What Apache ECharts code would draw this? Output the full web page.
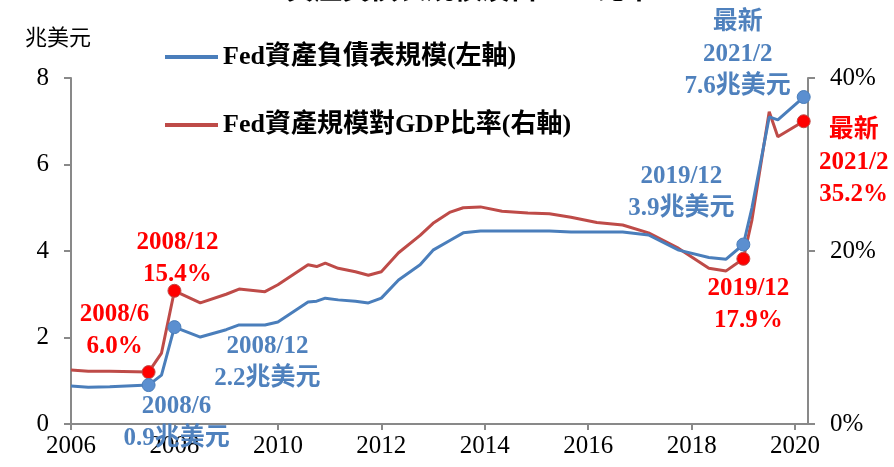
<!DOCTYPE html>
<html>
<head>
<meta charset="utf-8">
<script src="https://cdn.jsdelivr.net/npm/echarts@6/dist/echarts.min.js"></script>
<style>
  html, body { margin: 0; padding: 0; background: #fff; }
  #chart { width: 894px; height: 467px; }
</style>
</head>
<body>
<div id="chart"></div>
<script>
// 資料（月底）
var dates = ['2006/12','2007/4','2007/9','2008/6','2008/9','2008/12','2009/6','2009/12','2010/3','2010/9',
             '2010/12','2011/7','2011/9','2011/11','2012/2','2012/6','2012/9','2012/12','2013/4','2013/9',
             '2013/12','2014/4','2014/7','2014/11','2015/4','2015/10','2016/3','2016/8','2017/2','2017/8',
             '2018/2','2018/9','2019/4','2019/8','2019/12','2020/2','2020/6','2020/8','2021/2'];
// Fed資產負債表規模(兆美元)
var fedAssets = [0.88,0.85,0.86,0.9,1.13,2.24,2.01,2.18,2.29,2.29,
                 2.36,2.82,2.84,2.91,2.87,2.84,2.80,2.91,3.33,3.68,
                 4.02,4.25,4.42,4.46,4.46,4.46,4.46,4.44,4.44,4.44,
                 4.37,4.02,3.85,3.81,4.15,5.0,7.1,7.03,7.56];
// Fed資產規模對GDP比率(%)
var fedToGdp = [6.24,6.1,6.1,6.0,8.2,15.4,14.0,15.0,15.6,15.3,
                16.1,18.4,18.2,18.6,18.0,17.6,17.2,17.6,19.8,21.8,
                23.2,24.5,25.0,25.1,24.6,24.4,24.3,23.9,23.3,23.0,
                22.1,20.3,18.0,17.7,19.1,23.6,36.1,33.2,35.0];

var xTicks = ['2006','2008','2010','2012','2014','2016','2018','2020'];
var markDates = ['2008/6','2008/12','2019/12','2021/2'];
var blueNotes = ['2008/6\n0.9兆美元','2008/12\n2.2兆美元','2019/12\n3.9兆美元','最新\n2021/2\n7.6兆美元'];
var redNotes = ['2008/6\n6.0%','2008/12\n15.4%','2019/12\n17.9%','最新\n2021/2\n35.2%'];

var seriesNames = ['Fed資產負債表規模(左軸)', 'Fed資產規模對GDP比率(右軸)'];
var titleText = 'Fed資產負債表規模及占GDP比率';

var FONT = "'Liberation Serif', 'Noto Sans CJK TC', serif";
var BLUE = '#4A7EBB', RED = '#BE4B48';

// 橫軸：以2006/12起算的月數
function monthIdx(s) {
    var p = s.split('/');
    return (parseInt(p[0]) - 2006) * 12 + parseInt(p[1]) - 12;
}
var tickVals = xTicks.map(function (t) { return (parseInt(t) - 2006) * 12; });

// 標註位置
var bluePos = [
    { position: 'bottom', offset: [28, -7] },
    { position: 'right', offset: [81, 35] },
    { position: 'top', offset: [-62, -8] },
    { position: 'top', offset: [-66, 18] }
];
var redPos = [
    { position: 'top', offset: [-34, 2] },
    { position: 'top', offset: [3, 12] },
    { position: 'bottom', offset: [5, 2] },
    { position: 'right', offset: [38, 41] }
];

function buildData(vals, notes, pos, color, markColor) {
    var out = [];
    for (var i = 0; i < dates.length; i++) {
        var k = markDates.indexOf(dates[i]);
        var item = { value: [monthIdx(dates[i]), vals[i]] };
        if (k >= 0) {
            item.symbolSize = 13;
            item.itemStyle = { color: markColor, borderColor: color, borderWidth: 1 };
            item.label = {
                show: true,
                position: pos[k].position,
                offset: pos[k].offset,
                formatter: notes[k],
                color: markColor == '#FF0000' ? '#FF0000' : '#4F81BD',
                fontFamily: FONT,
                fontWeight: 'bold',
                fontSize: 25,
                lineHeight: 32,
                align: 'center'
            };
        }
        out.push(item);
    }
    return out;
}

var myChart = echarts.init(document.getElementById('chart'));
var axisLine = { show: true, lineStyle: { color: '#898989', width: 2 } };
var option = {
    animation: false,
    backgroundColor: '#fff',
    title: {
        text: titleText,
        left: 'center',
        top: -27,
        textStyle: { fontFamily: FONT, fontSize: 28, fontWeight: 'bold', color: '#000' }
    },
    legend: {
        orient: 'vertical',
        left: 165,
        top: 43,
        padding: 0,
        itemGap: 40,
        itemWidth: 53,
        itemHeight: 4,
        icon: 'rect',
        textStyle: { fontFamily: FONT, fontSize: 26, fontWeight: 'bold', color: '#000', lineHeight: 28 },
        data: seriesNames
    },
    grid: { left: 71, right: 86, top: 78, bottom: 43, containLabel: false },
    xAxis: {
        type: 'value',
        min: 0,
        max: 171,
        splitLine: { show: false },
        axisLine: axisLine,
        axisTick: { show: true, length: 6, lineStyle: { color: '#898989', width: 2 }, customValues: tickVals },
        axisLabel: {
            customValues: tickVals,
            formatter: function (v) { return String(2006 + v / 12); },
            fontFamily: FONT, fontSize: 25, color: '#000', margin: 10
        }
    },
    yAxis: [
        {
            type: 'value',
            min: 0, max: 8, interval: 2,
            name: '兆美元',
            nameLocation: 'end',
            nameGap: 28,
            nameTextStyle: { fontFamily: FONT, fontSize: 22, color: '#000', align: 'right', padding: [0, -20, 0, 0] },
            splitLine: { show: false },
            axisLine: axisLine,
            axisTick: { show: true, length: 7, lineStyle: { color: '#898989', width: 2 } },
            axisLabel: { fontFamily: FONT, fontSize: 25, color: '#000', margin: 22 }
        },
        {
            type: 'value',
            min: 0, max: 40, interval: 20,
            position: 'right',
            splitLine: { show: false },
            axisLine: axisLine,
            axisTick: { show: true, length: 7, lineStyle: { color: '#898989', width: 2 } },
            axisLabel: { formatter: '{value}%', fontFamily: FONT, fontSize: 25, color: '#000', margin: 22 }
        }
    ],
    series: [
        {
            name: seriesNames[0],
            type: 'line',
            yAxisIndex: 0,
            symbol: 'circle',
            symbolSize: 0,
            color: BLUE,
            lineStyle: { color: BLUE, width: 3 },
            z: 3,
            data: buildData(fedAssets, blueNotes, bluePos, BLUE, '#5B8FD0')
        },
        {
            name: seriesNames[1],
            type: 'line',
            yAxisIndex: 1,
            symbol: 'circle',
            symbolSize: 0,
            color: RED,
            lineStyle: { color: RED, width: 3 },
            z: 2,
            data: buildData(fedToGdp, redNotes, redPos, RED, '#FF0000')
        }
    ]
};
myChart.setOption(option);
</script>
</body>
</html>
